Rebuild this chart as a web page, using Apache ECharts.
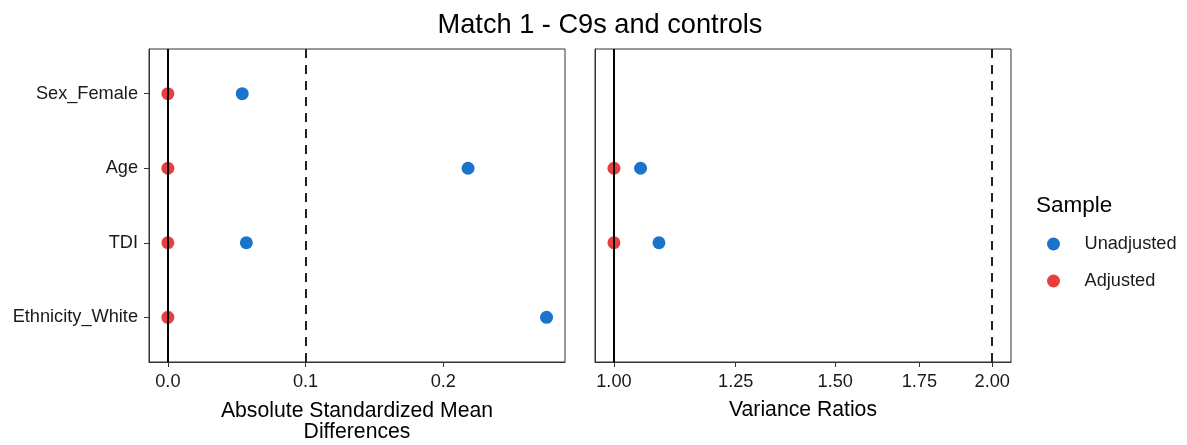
<!DOCTYPE html>
<html>
<head>
<meta charset="utf-8">
<script src="https://cdn.jsdelivr.net/npm/echarts@6/dist/echarts.min.js"></script>
<style>
html,body{margin:0;padding:0;background:#fff;}
#chart{width:1187px;height:445px;}
</style>
</head>
<body>
<div id="chart"></div>
<script>
// ---- data ----
const categories = ['Sex_Female', 'Age', 'TDI', 'Ethnicity_White'];
const smdUnadjusted = [0.054, 0.218, 0.057, 0.275];
const smdAdjusted = [0, 0, 0, 0];
const vrUnadjusted = [null, 1.050, 1.086, null];
const vrAdjusted = [null, 1.0, 1.0, null];
const smdTicks = [0, 0.1, 0.2];
const vrTicks = [1, 1.25, 1.5, 1.75, 2];
const smdThreshold = 0.1;
const vrThreshold = 2;

const FONT = '"Liberation Sans", Arial, sans-serif';
const BLUE = '#1B74CC';
const RED = '#E83F3E';
const TXT = '#1a1a1a';
const TICK_FS = 18.2;

function pts(vals) {
  const out = [];
  vals.forEach((v, i) => { if (v !== null) out.push([v, i + 1]); });
  return out;
}

const yIdx = categories.map((c, i) => i + 1);

function yAxis(gridIndex, showLabels) {
  return {
    type: 'value', gridIndex: gridIndex, min: 0.4, max: 4.6, inverse: true,
    splitLine: { show: false },
    axisLine: { show: true, onZero: false, lineStyle: { color: '#333', width: 1 } },
    axisTick: { show: showLabels, length: 5, customValues: yIdx, lineStyle: { color: '#333' } },
    axisLabel: {
      show: showLabels, customValues: yIdx, margin: 11,
      formatter: v => categories[Math.round(v) - 1] || '',
      color: TXT, fontSize: TICK_FS, fontFamily: FONT
    }
  };
}

const option = {
  animation: false,
  backgroundColor: '#fff',
  title: [
    { text: 'Match 1 - C9s and controls', left: 595, top: 7, textAlign: 'center',
      textStyle: { fontSize: 27.2, fontWeight: 'normal', color: '#000', fontFamily: FONT } },
    { text: 'Sample', left: 1031, top: 189,
      textStyle: { fontSize: 22.5, fontWeight: 'normal', color: '#000', fontFamily: FONT } }
  ],
  legend: {
    data: ['Unadjusted', 'Adjusted'],
    orient: 'vertical', left: 1042, top: 230,
    icon: 'circle', itemWidth: 52, itemHeight: 13, itemGap: 19,
    textStyle: { fontSize: TICK_FS, color: TXT, fontFamily: FONT }
  },
  grid: [
    { left: 149, top: 49, width: 416, height: 313, show: true, borderColor: '#333', borderWidth: 1,
      backgroundColor: 'transparent', containLabel: false, outerBoundsMode: 'none' },
    { left: 595, top: 49, width: 416, height: 313, show: true, borderColor: '#333', borderWidth: 1,
      backgroundColor: 'transparent', containLabel: false, outerBoundsMode: 'none' }
  ],
  xAxis: [
    {
      type: 'value', gridIndex: 0, min: -0.0137, max: 0.2884,
      splitLine: { show: false },
      axisLine: { show: true, onZero: false, lineStyle: { color: '#333' } },
      axisTick: { show: true, length: 5, customValues: smdTicks, lineStyle: { color: '#333' } },
      axisLabel: { customValues: smdTicks, margin: 11, formatter: v => Number(v).toFixed(1),
        color: TXT, fontSize: TICK_FS, fontFamily: FONT },
      name: 'Absolute Standardized Mean\nDifferences', nameLocation: 'middle', nameGap: 39,
      nameTextStyle: { fontSize: 21.2, color: '#000', fontFamily: FONT, lineHeight: 21 }
    },
    {
      type: 'log', logBase: 10, gridIndex: 1, min: 0.9659, max: 2.070,
      splitLine: { show: false },
      axisLine: { show: true, onZero: false, lineStyle: { color: '#333' } },
      axisTick: { show: true, length: 5, customValues: vrTicks, lineStyle: { color: '#333' } },
      axisLabel: { customValues: vrTicks, margin: 11, formatter: v => Number(v).toFixed(2),
        color: TXT, fontSize: TICK_FS, fontFamily: FONT },
      name: 'Variance Ratios', nameLocation: 'middle', nameGap: 38,
      nameTextStyle: { fontSize: 21.2, color: '#000', fontFamily: FONT, lineHeight: 21 }
    }
  ],
  yAxis: [yAxis(0, true), yAxis(1, false)],
  series: [
    {
      type: 'scatter', xAxisIndex: 0, yAxisIndex: 0, data: [], z: 1, silent: true,
      markLine: {
        symbol: 'none', silent: true, label: { show: false }, animation: false,
        data: [
          { xAxis: 0, lineStyle: { color: '#000', width: 2, type: 'solid' } },
          { xAxis: smdThreshold, lineStyle: { color: '#222', width: 2, type: [9, 7] } }
        ]
      }
    },
    {
      type: 'scatter', xAxisIndex: 1, yAxisIndex: 1, data: [], z: 1, silent: true,
      markLine: {
        symbol: 'none', silent: true, label: { show: false }, animation: false,
        data: [
          { xAxis: 1, lineStyle: { color: '#000', width: 2, type: 'solid' } },
          { xAxis: vrThreshold, lineStyle: { color: '#222', width: 2, type: [9, 7] } }
        ]
      }
    },
    { name: 'Unadjusted', type: 'scatter', xAxisIndex: 0, yAxisIndex: 0, data: pts(smdUnadjusted),
      symbolSize: 13, itemStyle: { color: BLUE, opacity: 1 }, z: 3 },
    { name: 'Adjusted', type: 'scatter', xAxisIndex: 0, yAxisIndex: 0, data: pts(smdAdjusted),
      symbolSize: 13, itemStyle: { color: RED, opacity: 1 }, z: 4 },
    { name: 'Unadjusted', type: 'scatter', xAxisIndex: 1, yAxisIndex: 1, data: pts(vrUnadjusted),
      symbolSize: 13, itemStyle: { color: BLUE, opacity: 1 }, z: 3 },
    { name: 'Adjusted', type: 'scatter', xAxisIndex: 1, yAxisIndex: 1, data: pts(vrAdjusted),
      symbolSize: 13, itemStyle: { color: RED, opacity: 1 }, z: 4 }
  ]
};

const chart = echarts.init(document.getElementById('chart'), null, { renderer: 'canvas' });
chart.setOption(option);
</script>
</body>
</html>
